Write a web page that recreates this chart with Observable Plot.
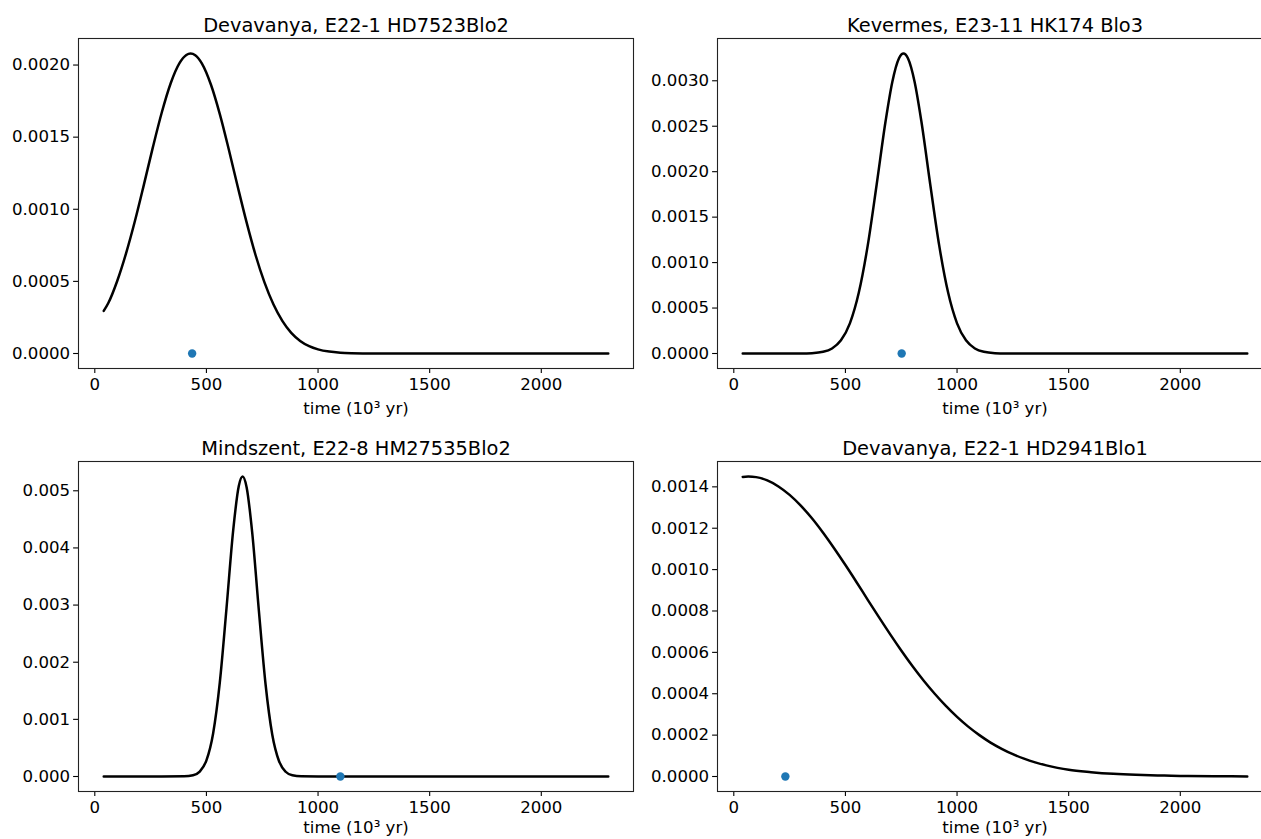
<!DOCTYPE html>
<html>
<head>
<meta charset="utf-8">
<script src="https://cdn.jsdelivr.net/npm/d3@7"></script>
<script src="https://cdn.jsdelivr.net/npm/@observablehq/plot@0.6"></script>
<style>
  html, body { margin: 0; padding: 0; background: white; }
  #wrap { position: relative; width: 1261px; height: 839px; overflow: hidden; background: white; }
  #wrap > div { position: absolute; }
  #wrap svg { overflow: visible; max-width: none !important; display: block; }
</style>
</head>
<body>
<div id="wrap">
  <div id="p1"></div><div id="p2"></div><div id="p3"></div><div id="p4"></div>
</div>
<script>
// ---- data ----
const titles = [
  "Devavanya, E22-1 HD7523Blo2",
  "Kevermes, E23-11 HK174 Blo3",
  "Mindszent, E22-8 HM27535Blo2",
  "Devavanya, E22-1 HD2941Blo1"
];
const xLabel = "time (10³ yr)";
const xTicks = [0, 500, 1000, 1500, 2000];

const tlX = [40,60,100,140,180,220,260,300,340,380,410,429,450,480,520,560,600,640,680,720,760,800,840,880,920,960,1000,1050,1100,1150,1200,1300,1400,1600,1800,2000,2300];
const tlY = [0.000295,0.000348,0.000501,0.000694,0.000920,0.001171,0.001429,0.001671,0.001874,0.002015,0.002070,0.002080,0.002068,0.002010,0.001865,0.001660,0.001416,0.001158,0.000909,0.000683,0.000493,0.000341,0.000226,0.000143,0.0000873,0.0000510,0.0000286,0.0000131,0.0000056,0.0000022,0.0000008,0.0000001,0,0,0,0,0];
const tlDot = [436, 0];
const tlYTicks = [0, 0.0005, 0.0010, 0.0015, 0.0020];

const trX = [40,200,300,350,400,440,480,520,560,600,640,680,710,740,760,780,810,840,880,920,960,1000,1040,1080,1120,1170,1220,1300,1500,1800,2100,2300];
const trY = [0,0,0.0000007,0.0000041,0.0000188,0.0000557,0.000145,0.000332,0.000670,0.001189,0.001859,0.002557,0.002987,0.003248,0.003300,0.003248,0.002987,0.002557,0.001859,0.001189,0.000670,0.000332,0.000145,0.0000557,0.0000188,0.0000041,0.0000007,0,0,0,0,0];
const trDot = [752, 0];
const trYTicks = [0, 0.0005, 0.0010, 0.0015, 0.0020, 0.0025, 0.0030];

const blX = [40,300,400,440,470,500,530,560,590,620,645,662,680,705,735,765,795,825,855,885,925,1000,1100,1500,2000,2300];
const blY = [0,0,0.0000025,0.0000217,0.0000865,0.000282,0.000754,0.001648,0.002947,0.004313,0.005084,0.005250,0.005064,0.004273,0.002900,0.001610,0.000732,0.000272,0.0000829,0.0000206,0.0000024,0,0,0,0,0];
const blDot = [1100, 0];
const blYTicks = [0, 0.001, 0.002, 0.003, 0.004, 0.005];

const brX = [40,65,100,150,200,250,300,350,400,450,500,550,600,650,700,750,800,850,900,950,1000,1050,1100,1150,1200,1250,1300,1350,1400,1450,1500,1600,1700,1800,1900,2000,2150,2300];
const brY = [0.001448,0.001450,0.001447,0.001431,0.001402,0.001361,0.001309,0.001248,0.001178,0.001102,0.001022,0.000939,0.000854,0.000770,0.000688,0.000609,0.000534,0.000464,0.000400,0.000341,0.000288,0.000241,0.000200,0.000164,0.000134,0.000108,0.0000864,0.0000684,0.0000538,0.0000418,0.0000322,0.000021,0.000013,0.000008,0.000005,0.000003,0.000001,0.0000005];
const brDot = [231, 0];
const brYTicks = [0, 0.0002, 0.0004, 0.0006, 0.0008, 0.0010, 0.0012, 0.0014];

// ---- drawing ----
const FW = 555, FH = 330;
function panel(id, left, top, ml, xs, ys, dot, yTicks, decimals, title, labelDy) {
  const mt = 38, mb = 50, mr = 20;
  const data = xs.map((x, i) => ({x, y: ys[i]}));
  const ymax = d3.max(ys);
  const W = ml + FW + mr, H = mt + FH + mb;
  const chart = Plot.plot({
    width: W,
    height: H,
    marginLeft: ml, marginRight: mr, marginTop: mt, marginBottom: mb,
    style: {fontFamily: "'DejaVu Sans', sans-serif", fontSize: "16.6px", color: "black", background: "white", overflow: "visible"},
    x: {domain: [-73, 2413]},
    y: {domain: [-0.05 * ymax, 1.05 * ymax]},
    marks: [
      Plot.axisX({ticks: xTicks, tickFormat: d => String(d), tickSize: 4.9, tickPadding: 4.5, label: null, fontSize: 16.6, strokeWidth: 1.1}),
      Plot.axisY({ticks: yTicks, tickFormat: d => d.toFixed(decimals), tickSize: 4.9, tickPadding: 3.5, label: null, fontSize: 16.6, strokeWidth: 1.1}),
      Plot.line(data, {x: "x", y: "y", stroke: "black", strokeWidth: 2.5, curve: "monotone-x"}),
      Plot.dot([dot], {x: d => d[0], y: d => d[1], r: 4.2, fill: "#1f77b4", stroke: "none"}),
      Plot.frame({stroke: "#222", strokeWidth: 1.1}),
      Plot.text([title], {text: d => d, frameAnchor: "top", lineAnchor: "middle", dy: -13, fontSize: 19.4}),
      Plot.text([xLabel], {text: d => d, frameAnchor: "bottom", lineAnchor: "middle", dy: labelDy, fontSize: 16.6})
    ]
  });
  const el = document.getElementById(id);
  el.style.left = (left - ml) + "px";
  el.style.top = (top - mt) + "px";
  el.style.width = W + "px";
  el.style.height = H + "px";
  el.appendChild(chart);
}

panel("p1", 78, 38, 78, tlX, tlY, tlDot, tlYTicks, 4, titles[0], 40);
panel("p2", 716.7, 38, 80, trX, trY, trDot, trYTicks, 4, titles[1], 40);
panel("p3", 78, 461, 78, blX, blY, blDot, blYTicks, 3, titles[2], 36.5);
panel("p4", 716.7, 461, 80, brX, brY, brDot, brYTicks, 4, titles[3], 36.5);
</script>
</body>
</html>
